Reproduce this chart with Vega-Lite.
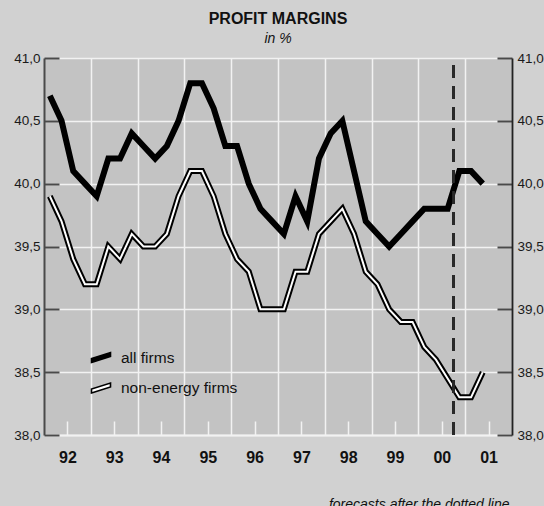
{
  "$schema": "https://vega.github.io/schema/vega-lite/v6.json",
  "autosize": {"type": "none"},
  "width": 468,
  "height": 377,
  "padding": {"left": 44, "top": 58, "right": 32, "bottom": 71},
  "background": "#d1d1d1",
  "config": {
    "view": {"fill": "#c3c3c3", "stroke": null},
    "font": "Liberation Sans"
  },
  "title": {
    "text": "PROFIT MARGINS",
    "subtitle": "in %",
    "anchor": "middle",
    "font": "Liberation Sans",
    "fontSize": 16,
    "fontWeight": "bold",
    "color": "#111111",
    "subtitleFont": "Liberation Sans",
    "subtitleFontSize": 14,
    "subtitleFontStyle": "italic",
    "subtitleColor": "#111111",
    "subtitlePadding": 5,
    "offset": 5
  },
  "datasets": {
    "margins": [
      {"series": "all firms", "t": 1992.125, "v": 40.7},
      {"series": "all firms", "t": 1992.375, "v": 40.5},
      {"series": "all firms", "t": 1992.625, "v": 40.1},
      {"series": "all firms", "t": 1992.875, "v": 40.0},
      {"series": "all firms", "t": 1993.125, "v": 39.9},
      {"series": "all firms", "t": 1993.375, "v": 40.2},
      {"series": "all firms", "t": 1993.625, "v": 40.2},
      {"series": "all firms", "t": 1993.875, "v": 40.4},
      {"series": "all firms", "t": 1994.125, "v": 40.3},
      {"series": "all firms", "t": 1994.375, "v": 40.2},
      {"series": "all firms", "t": 1994.625, "v": 40.3},
      {"series": "all firms", "t": 1994.875, "v": 40.5},
      {"series": "all firms", "t": 1995.125, "v": 40.8},
      {"series": "all firms", "t": 1995.375, "v": 40.8},
      {"series": "all firms", "t": 1995.625, "v": 40.6},
      {"series": "all firms", "t": 1995.875, "v": 40.3},
      {"series": "all firms", "t": 1996.125, "v": 40.3},
      {"series": "all firms", "t": 1996.375, "v": 40.0},
      {"series": "all firms", "t": 1996.625, "v": 39.8},
      {"series": "all firms", "t": 1996.875, "v": 39.7},
      {"series": "all firms", "t": 1997.125, "v": 39.6},
      {"series": "all firms", "t": 1997.375, "v": 39.9},
      {"series": "all firms", "t": 1997.625, "v": 39.7},
      {"series": "all firms", "t": 1997.875, "v": 40.2},
      {"series": "all firms", "t": 1998.125, "v": 40.4},
      {"series": "all firms", "t": 1998.375, "v": 40.5},
      {"series": "all firms", "t": 1998.625, "v": 40.1},
      {"series": "all firms", "t": 1998.875, "v": 39.7},
      {"series": "all firms", "t": 1999.125, "v": 39.6},
      {"series": "all firms", "t": 1999.375, "v": 39.5},
      {"series": "all firms", "t": 1999.625, "v": 39.6},
      {"series": "all firms", "t": 1999.875, "v": 39.7},
      {"series": "all firms", "t": 2000.125, "v": 39.8},
      {"series": "all firms", "t": 2000.375, "v": 39.8},
      {"series": "all firms", "t": 2000.625, "v": 39.8},
      {"series": "all firms", "t": 2000.875, "v": 40.1},
      {"series": "all firms", "t": 2001.125, "v": 40.1},
      {"series": "all firms", "t": 2001.375, "v": 40.0},
      {"series": "non-energy firms", "t": 1992.125, "v": 39.9},
      {"series": "non-energy firms", "t": 1992.375, "v": 39.7},
      {"series": "non-energy firms", "t": 1992.625, "v": 39.4},
      {"series": "non-energy firms", "t": 1992.875, "v": 39.2},
      {"series": "non-energy firms", "t": 1993.125, "v": 39.2},
      {"series": "non-energy firms", "t": 1993.375, "v": 39.5},
      {"series": "non-energy firms", "t": 1993.625, "v": 39.4},
      {"series": "non-energy firms", "t": 1993.875, "v": 39.6},
      {"series": "non-energy firms", "t": 1994.125, "v": 39.5},
      {"series": "non-energy firms", "t": 1994.375, "v": 39.5},
      {"series": "non-energy firms", "t": 1994.625, "v": 39.6},
      {"series": "non-energy firms", "t": 1994.875, "v": 39.9},
      {"series": "non-energy firms", "t": 1995.125, "v": 40.1},
      {"series": "non-energy firms", "t": 1995.375, "v": 40.1},
      {"series": "non-energy firms", "t": 1995.625, "v": 39.9},
      {"series": "non-energy firms", "t": 1995.875, "v": 39.6},
      {"series": "non-energy firms", "t": 1996.125, "v": 39.4},
      {"series": "non-energy firms", "t": 1996.375, "v": 39.3},
      {"series": "non-energy firms", "t": 1996.625, "v": 39.0},
      {"series": "non-energy firms", "t": 1996.875, "v": 39.0},
      {"series": "non-energy firms", "t": 1997.125, "v": 39.0},
      {"series": "non-energy firms", "t": 1997.375, "v": 39.3},
      {"series": "non-energy firms", "t": 1997.625, "v": 39.3},
      {"series": "non-energy firms", "t": 1997.875, "v": 39.6},
      {"series": "non-energy firms", "t": 1998.125, "v": 39.7},
      {"series": "non-energy firms", "t": 1998.375, "v": 39.8},
      {"series": "non-energy firms", "t": 1998.625, "v": 39.6},
      {"series": "non-energy firms", "t": 1998.875, "v": 39.3},
      {"series": "non-energy firms", "t": 1999.125, "v": 39.2},
      {"series": "non-energy firms", "t": 1999.375, "v": 39.0},
      {"series": "non-energy firms", "t": 1999.625, "v": 38.9},
      {"series": "non-energy firms", "t": 1999.875, "v": 38.9},
      {"series": "non-energy firms", "t": 2000.125, "v": 38.7},
      {"series": "non-energy firms", "t": 2000.375, "v": 38.6},
      {"series": "non-energy firms", "t": 2000.625, "v": 38.45},
      {"series": "non-energy firms", "t": 2000.875, "v": 38.3},
      {"series": "non-energy firms", "t": 2001.125, "v": 38.3},
      {"series": "non-energy firms", "t": 2001.375, "v": 38.5}
    ]
  },
  "data": {"name": "margins"},
  "layer": [
    {
      "mark": {"type": "line", "strokeWidth": 6},
      "encoding": {
        "x": {
          "field": "t",
          "type": "quantitative",
          "scale": {"domain": [1992, 2002], "nice": false, "zero": false},
          "axis": {
            "values": [1992.5, 1993.5, 1994.5, 1995.5, 1996.5, 1997.5, 1998.5, 1999.5, 2000.5, 2001.5],
            "labelExpr": "slice(format(floor(datum.value), 'd'), 2)",
            "labelOverlap": false,
            "labelFlush": false,
            "labelFont": "Liberation Sans",
            "labelFontSize": 16,
            "labelFontWeight": "bold",
            "labelColor": "#111111",
            "labelBaseline": "alphabetic",
            "labelPadding": 41.5,
            "grid": false,
            "ticks": true,
            "tickColor": "#f2f2f2",
            "tickWidth": 1.5,
            "tickSize": -14,
            "domainColor": "#f2f2f2",
            "domainWidth": 2,
            "title": "forecasts after the dotted line",
            "titleFont": "Liberation Sans",
            "titleFontSize": 14,
            "titleFontStyle": "italic",
            "titleFontWeight": "normal",
            "titleColor": "#111111",
            "titleAlign": "right",
            "titleBaseline": "alphabetic",
            "titleX": 465,
            "titleY": 73
          }
        },
        "y": {
          "field": "v",
          "type": "quantitative",
          "scale": {"domain": [38, 41], "nice": false, "zero": false},
          "axis": {
            "orient": "left",
            "values": [38, 38.5, 39, 39.5, 40, 40.5, 41],
            "labelExpr": "replace(format(datum.value, '.1f'), '.', ',')",
            "labelFont": "Liberation Sans",
            "labelFontSize": 13.5,
            "labelColor": "#1a1a1a",
            "labelPadding": 19,
            "grid": true,
            "gridColor": "#f2f2f2",
            "gridWidth": 1.5,
            "domainColor": "#4a4a4a",
            "domainWidth": 2,
            "tickColor": "#4a4a4a",
            "tickWidth": 2,
            "tickSize": -15,
            "title": null
          }
        },
        "stroke": {
          "field": "series",
          "type": "nominal",
          "scale": {"domain": ["all firms", "non-energy firms"], "range": ["#000000", "#000000"]},
          "legend": {
            "orient": "none",
            "legendX": 46,
            "legendY": 288.5,
            "title": null,
            "symbolType": "M-0.95,0.5L0.95,-0.1L0.95,-0.5L-0.95,0.1Z",
            "symbolSize": 400,
            "symbolStrokeWidth": 1.6,
            "labelFont": "Liberation Sans",
            "labelFontSize": 15.5,
            "labelColor": "#111111",
            "labelOffset": 9,
            "rowPadding": 10.5,
            "encoding": {
              "symbols": {
                "fill": {"condition": {"test": "datum.value === 'all firms'", "value": "#000000"}, "value": "#ffffff"},
                "stroke": {"value": "#000000"},
                "strokeWidth": {"value": 1.6},
                "opacity": {"value": 1}
              }
            }
          }
        }
      }
    },
    {
      "transform": [{"filter": "datum.series === 'non-energy firms'"}],
      "mark": {"type": "line", "strokeWidth": 2, "stroke": "#ffffff"},
      "encoding": {
        "x": {
          "field": "t",
          "type": "quantitative",
          "axis": {
            "values": [1993, 1994, 1995, 1996, 1997, 1998, 1999, 2000, 2001],
            "grid": true,
            "gridColor": "#f2f2f2",
            "gridWidth": 1.5,
            "ticks": false,
            "labels": false,
            "domain": false,
            "title": null
          }
        },
        "y": {
          "field": "v",
          "type": "quantitative",
          "axis": {
            "orient": "right",
            "values": [38, 38.5, 39, 39.5, 40, 40.5, 41],
            "labelExpr": "replace(format(datum.value, '.1f'), '.', ',')",
            "labelFont": "Liberation Sans",
            "labelFontSize": 13.5,
            "labelColor": "#1a1a1a",
            "labelPadding": 20,
            "grid": false,
            "domainColor": "#222222",
            "domainWidth": 1.8,
            "tickColor": "#4a4a4a",
            "tickWidth": 2,
            "tickSize": -15,
            "title": null
          }
        }
      }
    },
    {
      "mark": {"type": "rule", "strokeDash": [12, 9], "strokeWidth": 1.5, "color": "#2a2a2a"},
      "encoding": {
        "x": {"datum": 2000.75, "type": "quantitative", "axis": null},
        "y": {"datum": 40.94, "type": "quantitative", "axis": null},
        "y2": {"datum": 38}
      }
    }
  ],
  "resolve": {"axis": {"x": "independent", "y": "independent"}}
}
